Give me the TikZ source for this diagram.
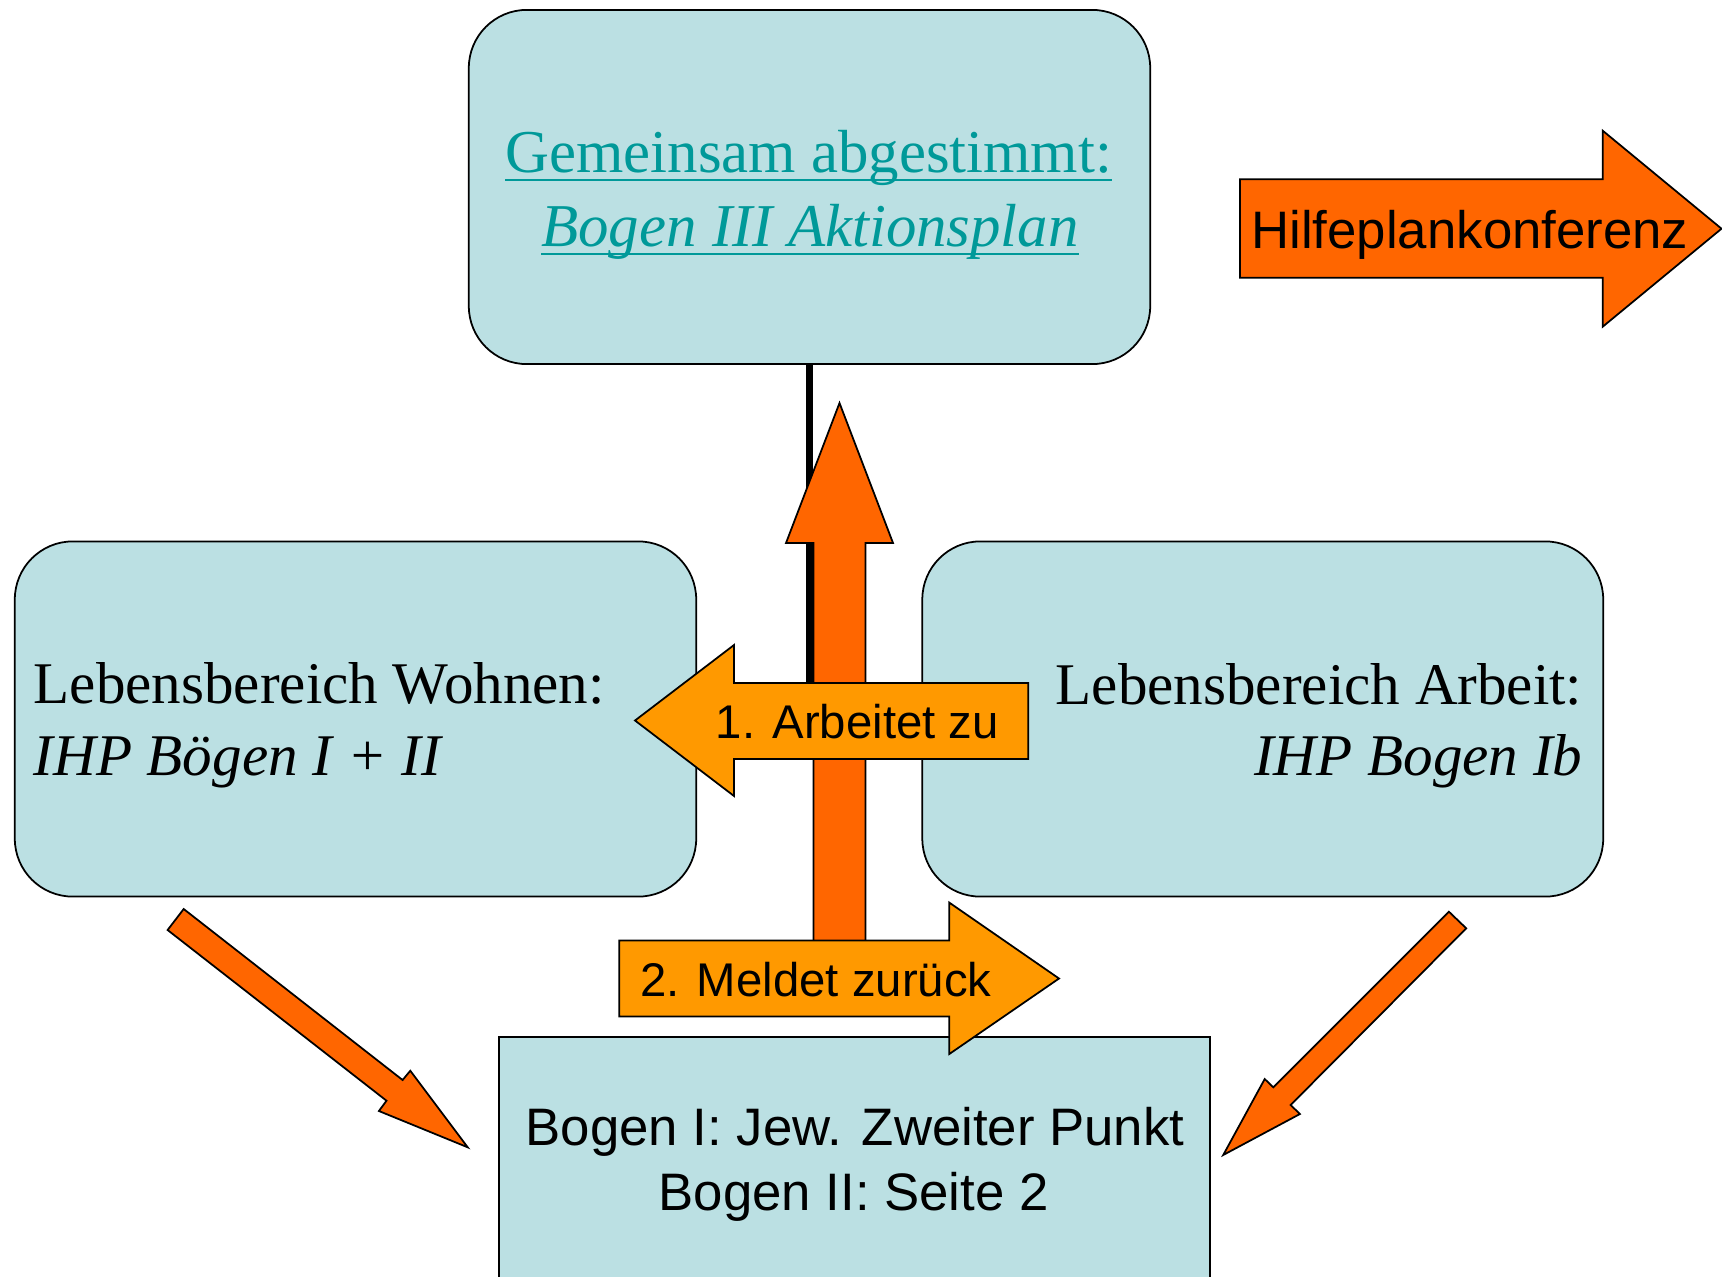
\documentclass[tikz,border=0pt]{standalone}
\usepackage{fontspec}
\setmainfont{Liberation Serif}
\newfontfamily\arialf{Liberation Sans}
\definecolor{boxfill}{HTML}{BBE0E3}
\definecolor{orangedark}{HTML}{FF6600}
\definecolor{orangelight}{HTML}{FF9900}
\definecolor{tealtext}{HTML}{009999}
\newcommand\ulx[1]{\setbox0\hbox{#1}\rlap{\rule[-2.4pt]{\wd0}{0.75pt}}\box0}
\begin{document}
\begin{tikzpicture}[x=0.01cm,y=-0.01cm,
  roundbox/.style={draw=black,line width=0.5pt,fill=boxfill,rounded corners=0.58cm,inner sep=0pt,outer sep=0pt},
  sqbox/.style={draw=black,line width=0.6pt,fill=boxfill,inner sep=0pt,outer sep=0pt},
  darrow/.style={draw=black,line width=0.5pt,line join=miter,fill=orangedark},
  larrow/.style={draw=black,line width=0.5pt,line join=miter,fill=orangelight},
  serifbig/.style={inner sep=0pt,font=\fontsize{17.3}{20}\selectfont},
  serifmid/.style={inner sep=0pt,font=\fontsize{16.8}{20}\selectfont},
  sansbig/.style={inner sep=0pt,font=\arialf\fontsize{15}{18}\selectfont},
  sanssmall/.style={inner sep=0pt,font=\arialf\fontsize{13.45}{16}\selectfont}]
\useasboundingbox (0,0) rectangle (1722,1276);

% boxes
\node[roundbox,minimum width=6.81cm,minimum height=3.54cm] (top) at (809.5,187) {};
\node[roundbox,minimum width=6.81cm,minimum height=3.55cm] (left) at (355.5,719) {};
\node[roundbox,minimum width=6.805cm,minimum height=3.55cm] (right) at (1262.75,719) {};
\node[sqbox,minimum width=7.10cm,minimum height=2.85cm] (bottom) at (854.5,1180) {};

% black connector from top box
\coordinate (lineend) at (809.5,700);
\draw[line width=2.2pt] (top.south) -- (lineend);

% up arrow
\draw[darrow] (813.5,945) -- (813.5,543) -- (786,543) -- (839.5,403) -- (893,543) -- (865.5,543) -- (865.5,945) -- cycle;

% 1. Arbeitet zu arrow
\draw[larrow] (1028.3,683) -- (734,683) -- (734,645) -- (635,720.5) -- (734,796) -- (734,759) -- (1028.3,759) -- cycle;

% 2. Meldet zurueck arrow
\draw[larrow] (619.3,940.4) -- (949.3,940.4) -- (949.3,902.6) -- (1059,978.5) -- (949.3,1054) -- (949.3,1016.4) -- (619.3,1016.4) -- cycle;

% diagonal arrows
\draw[darrow] (183.7,909) -- (402.6,1080) -- (410.3,1070.7) -- (467.7,1147.3) -- (378.9,1111) -- (386.5,1100.7) -- (167.6,930) -- cycle;
\draw[darrow] (1448.9,911.7) -- (1273.3,1087.3) -- (1264.7,1079) -- (1223.2,1155) -- (1299.9,1114) -- (1290.6,1105) -- (1466.2,928.3) -- cycle;

% Hilfeplankonferenz arrow
\draw[darrow] (1240,179.3) -- (1602.7,179.3) -- (1602.7,130.7) -- (1721.5,228.7) -- (1602.7,326.7) -- (1602.7,277.7) -- (1240,277.7) -- cycle;

% texts
\node[serifbig,text=tealtext,anchor=base] (t1) at (808.7,172.7) {\ulx{Gemeinsam abgestimmt:}};
\node[serifbig,text=tealtext,anchor=base] (t2) at (810,246.7) {\ulx{\itshape Bogen III Aktionsplan}};

\node[serifmid,anchor=base west] (l1) at (33,703) {Lebensbereich Wohnen:};
\node[serifmid,anchor=base west] (l2) at (33,775) {\itshape IHP Bögen I + II};

\node[serifmid,anchor=base east] (r1) at (1583,704) {Lebensbereich Arbeit:};
\node[serifmid,anchor=base east] (r2) at (1583,775) {\itshape IHP Bogen Ib};

\node[sansbig,anchor=base] (b1) at (855,1145) {Bogen I: Jew. Zweiter Punkt};
\node[sansbig,anchor=base] (b2) at (853.7,1210) {Bogen II: Seite 2};

\node[sanssmall,anchor=base west] (a1) at (715,738.4) {1. Arbeitet zu};
\node[sanssmall,anchor=base west] (a2) at (639.3,996) {2. Meldet zurück};
\node[sansbig,anchor=base west] (h1) at (1250.7,248.3) {Hilfeplankonferenz};
\end{tikzpicture}
\end{document}
